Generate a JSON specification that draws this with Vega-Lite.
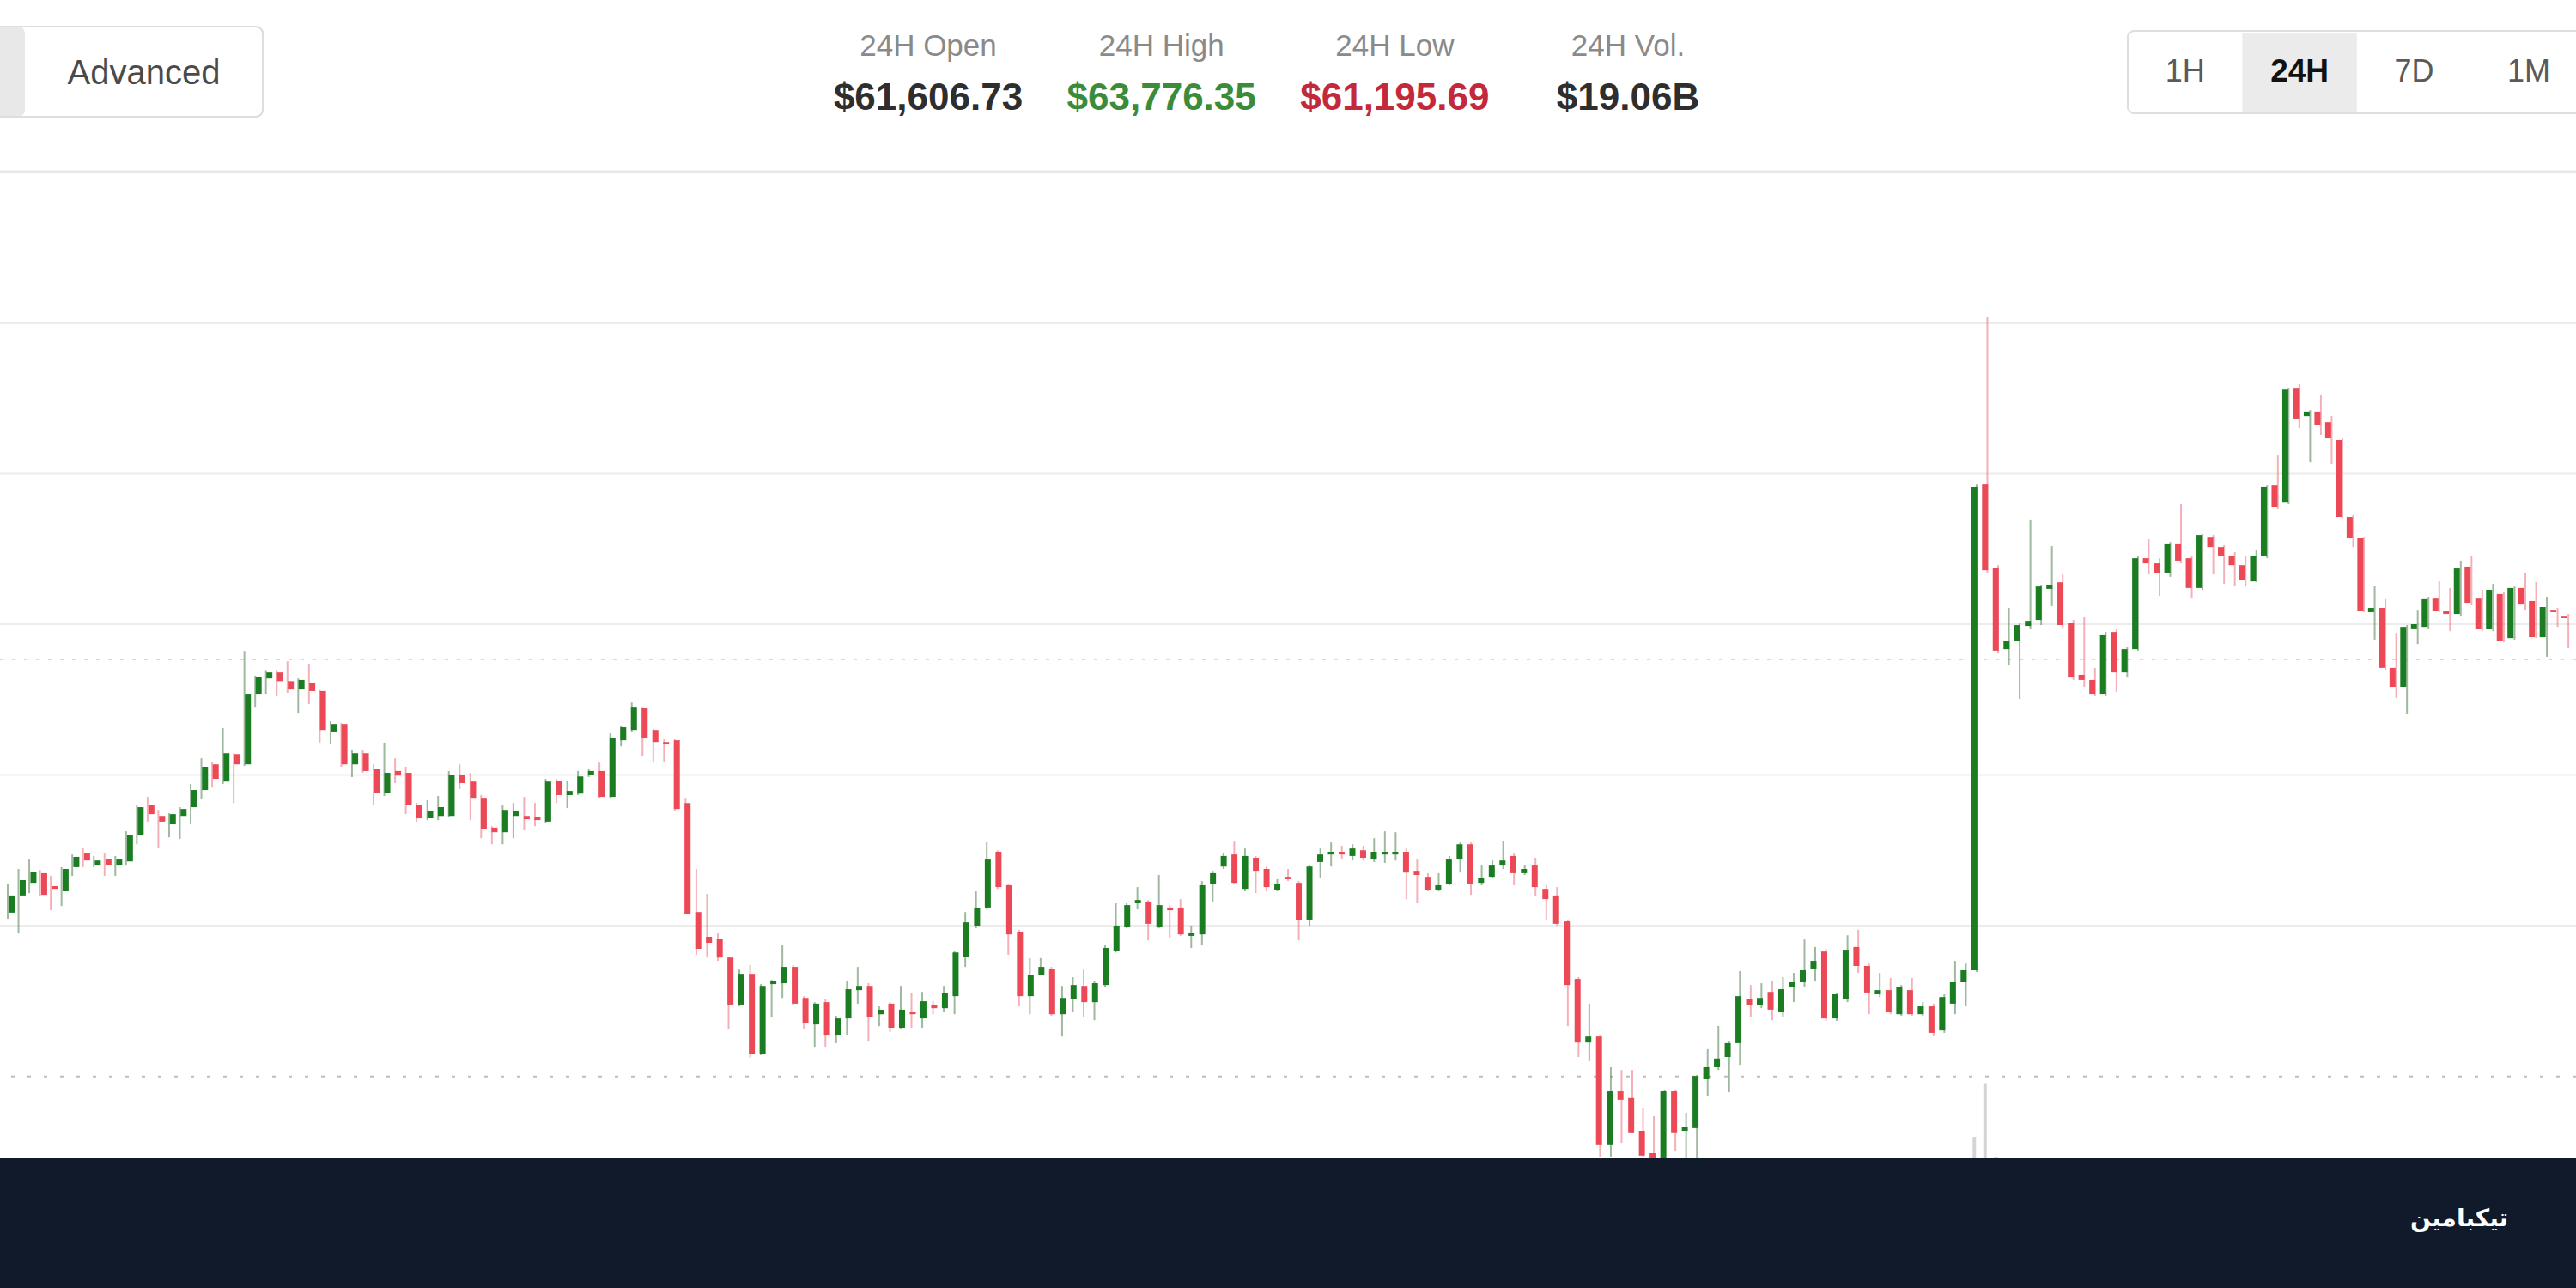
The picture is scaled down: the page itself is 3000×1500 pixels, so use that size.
{
"$schema": "https://vega.github.io/schema/vega-lite/v6.json",
"width": 3000, "height": 1500,
"autosize": {"type": "none"},
"padding": 0,
"background": "#ffffff",
"config": {"view": {"stroke": null}, "text": {"font": "Liberation Sans"}},
"datasets": {
"candles": [
{"t":0,"open":62043,"close":62100,"high":62137,"low":62023},
{"t":1,"open":62100,"close":62151,"high":62188,"low":61974},
{"t":2,"open":62142,"close":62179,"high":62222,"low":62108},
{"t":3,"open":62174,"close":62102,"high":62185,"low":62097},
{"t":4,"open":62131,"close":62122,"high":62165,"low":62051},
{"t":5,"open":62114,"close":62188,"high":62194,"low":62065},
{"t":6,"open":62194,"close":62228,"high":62236,"low":62165},
{"t":7,"open":62242,"close":62216,"high":62259,"low":62194},
{"t":8,"open":62202,"close":62216,"high":62231,"low":62194},
{"t":9,"open":62222,"close":62202,"high":62242,"low":62165},
{"t":10,"open":62202,"close":62222,"high":62231,"low":62165},
{"t":11,"open":62213,"close":62302,"high":62313,"low":62202},
{"t":12,"open":62299,"close":62393,"high":62401,"low":62270},
{"t":13,"open":62401,"close":62370,"high":62427,"low":62345},
{"t":14,"open":62364,"close":62345,"high":62384,"low":62256},
{"t":15,"open":62336,"close":62370,"high":62373,"low":62293},
{"t":16,"open":62364,"close":62387,"high":62393,"low":62288},
{"t":17,"open":62393,"close":62450,"high":62470,"low":62336},
{"t":18,"open":62450,"close":62527,"high":62555,"low":62421},
{"t":19,"open":62535,"close":62487,"high":62544,"low":62458},
{"t":20,"open":62478,"close":62572,"high":62655,"low":62470},
{"t":21,"open":62569,"close":62535,"high":62572,"low":62407},
{"t":22,"open":62535,"close":62769,"high":62911,"low":62530},
{"t":23,"open":62769,"close":62826,"high":62829,"low":62726},
{"t":24,"open":62820,"close":62840,"high":62848,"low":62769},
{"t":25,"open":62840,"close":62811,"high":62848,"low":62763},
{"t":26,"open":62811,"close":62786,"high":62877,"low":62772},
{"t":27,"open":62786,"close":62815,"high":62820,"low":62706},
{"t":28,"open":62806,"close":62778,"high":62869,"low":62735},
{"t":29,"open":62778,"close":62649,"high":62784,"low":62607},
{"t":30,"open":62644,"close":62669,"high":62678,"low":62601},
{"t":31,"open":62669,"close":62535,"high":62672,"low":62527},
{"t":32,"open":62535,"close":62572,"high":62584,"low":62493},
{"t":33,"open":62572,"close":62513,"high":62584,"low":62507},
{"t":34,"open":62521,"close":62441,"high":62535,"low":62399},
{"t":35,"open":62441,"close":62507,"high":62607,"low":62430},
{"t":36,"open":62513,"close":62498,"high":62555,"low":62473},
{"t":37,"open":62507,"close":62401,"high":62527,"low":62370},
{"t":38,"open":62401,"close":62356,"high":62407,"low":62345},
{"t":39,"open":62356,"close":62379,"high":62416,"low":62350},
{"t":40,"open":62364,"close":62393,"high":62430,"low":62350},
{"t":41,"open":62364,"close":62501,"high":62513,"low":62359},
{"t":42,"open":62501,"close":62473,"high":62535,"low":62453},
{"t":43,"open":62478,"close":62424,"high":62507,"low":62350},
{"t":44,"open":62424,"close":62319,"high":62433,"low":62290},
{"t":45,"open":62325,"close":62310,"high":62330,"low":62270},
{"t":46,"open":62310,"close":62384,"high":62399,"low":62270},
{"t":47,"open":62364,"close":62379,"high":62407,"low":62290},
{"t":48,"open":62364,"close":62353,"high":62427,"low":62316},
{"t":49,"open":62359,"close":62350,"high":62407,"low":62330},
{"t":50,"open":62345,"close":62478,"high":62487,"low":62339},
{"t":51,"open":62481,"close":62433,"high":62487,"low":62407},
{"t":52,"open":62433,"close":62447,"high":62481,"low":62390},
{"t":53,"open":62438,"close":62495,"high":62513,"low":62433},
{"t":54,"open":62501,"close":62513,"high":62521,"low":62493},
{"t":55,"open":62513,"close":62427,"high":62541,"low":62424},
{"t":56,"open":62427,"close":62624,"high":62638,"low":62424},
{"t":57,"open":62615,"close":62658,"high":62664,"low":62595},
{"t":58,"open":62649,"close":62726,"high":62740,"low":62644},
{"t":59,"open":62723,"close":62624,"high":62726,"low":62561},
{"t":60,"open":62649,"close":62609,"high":62652,"low":62541},
{"t":61,"open":62609,"close":62601,"high":62618,"low":62541},
{"t":62,"open":62615,"close":62387,"high":62618,"low":62379},
{"t":63,"open":62407,"close":62040,"high":62424,"low":62037},
{"t":64,"open":62045,"close":61923,"high":62188,"low":61903},
{"t":65,"open":61963,"close":61943,"high":62105,"low":61894},
{"t":66,"open":61957,"close":61894,"high":61977,"low":61883},
{"t":67,"open":61894,"close":61738,"high":61897,"low":61658},
{"t":68,"open":61738,"close":61840,"high":61854,"low":61732},
{"t":69,"open":61840,"close":61575,"high":61869,"low":61561},
{"t":70,"open":61575,"close":61800,"high":61806,"low":61570},
{"t":71,"open":61806,"close":61815,"high":61820,"low":61698},
{"t":72,"open":61809,"close":61863,"high":61937,"low":61760},
{"t":73,"open":61863,"close":61741,"high":61869,"low":61738},
{"t":74,"open":61760,"close":61678,"high":61766,"low":61658},
{"t":75,"open":61672,"close":61741,"high":61746,"low":61598},
{"t":76,"open":61746,"close":61638,"high":61755,"low":61598},
{"t":77,"open":61638,"close":61692,"high":61701,"low":61610},
{"t":78,"open":61692,"close":61789,"high":61815,"low":61638},
{"t":79,"open":61786,"close":61800,"high":61863,"low":61741},
{"t":80,"open":61800,"close":61698,"high":61809,"low":61618},
{"t":81,"open":61706,"close":61721,"high":61732,"low":61666},
{"t":82,"open":61741,"close":61661,"high":61746,"low":61647},
{"t":83,"open":61661,"close":61721,"high":61800,"low":61658},
{"t":84,"open":61715,"close":61706,"high":61775,"low":61661},
{"t":85,"open":61692,"close":61749,"high":61780,"low":61661},
{"t":86,"open":61735,"close":61726,"high":61749,"low":61706},
{"t":87,"open":61726,"close":61775,"high":61800,"low":61715},
{"t":88,"open":61766,"close":61911,"high":61917,"low":61706},
{"t":89,"open":61897,"close":62011,"high":62045,"low":61863},
{"t":90,"open":62000,"close":62060,"high":62114,"low":61991},
{"t":91,"open":62060,"close":62222,"high":62276,"low":62054},
{"t":92,"open":62245,"close":62128,"high":62250,"low":62122},
{"t":93,"open":62134,"close":61971,"high":62137,"low":61903},
{"t":94,"open":61980,"close":61766,"high":61986,"low":61732},
{"t":95,"open":61766,"close":61835,"high":61892,"low":61706},
{"t":96,"open":61837,"close":61863,"high":61892,"low":61835},
{"t":97,"open":61857,"close":61706,"high":61863,"low":61701},
{"t":98,"open":61706,"close":61760,"high":61800,"low":61632},
{"t":99,"open":61755,"close":61803,"high":61829,"low":61715},
{"t":100,"open":61800,"close":61746,"high":61854,"low":61698},
{"t":101,"open":61746,"close":61809,"high":61815,"low":61686},
{"t":102,"open":61803,"close":61926,"high":61937,"low":61795},
{"t":103,"open":61917,"close":62000,"high":62074,"low":61911},
{"t":104,"open":61997,"close":62068,"high":62074,"low":61991},
{"t":105,"open":62074,"close":62085,"high":62128,"low":62054},
{"t":106,"open":62080,"close":62006,"high":62085,"low":61951},
{"t":107,"open":61997,"close":62068,"high":62168,"low":61991},
{"t":108,"open":62060,"close":62051,"high":62068,"low":61960},
{"t":109,"open":62060,"close":61971,"high":62088,"low":61966},
{"t":110,"open":61966,"close":61977,"high":62000,"low":61926},
{"t":111,"open":61971,"close":62134,"high":62148,"low":61937},
{"t":112,"open":62137,"close":62174,"high":62182,"low":62080},
{"t":113,"open":62196,"close":62231,"high":62242,"low":62188},
{"t":114,"open":62236,"close":62142,"high":62279,"low":62137},
{"t":115,"open":62122,"close":62231,"high":62256,"low":62114},
{"t":116,"open":62225,"close":62182,"high":62231,"low":62108},
{"t":117,"open":62188,"close":62128,"high":62196,"low":62114},
{"t":118,"open":62119,"close":62137,"high":62154,"low":62114},
{"t":119,"open":62162,"close":62154,"high":62188,"low":62148},
{"t":120,"open":62142,"close":62020,"high":62148,"low":61951},
{"t":121,"open":62020,"close":62196,"high":62202,"low":62000},
{"t":122,"open":62211,"close":62236,"high":62256,"low":62157},
{"t":123,"open":62236,"close":62245,"high":62276,"low":62196},
{"t":124,"open":62245,"close":62236,"high":62265,"low":62222},
{"t":125,"open":62231,"close":62256,"high":62270,"low":62216},
{"t":126,"open":62250,"close":62225,"high":62265,"low":62216},
{"t":127,"open":62222,"close":62245,"high":62290,"low":62211},
{"t":128,"open":62236,"close":62245,"high":62313,"low":62208},
{"t":129,"open":62236,"close":62245,"high":62310,"low":62216},
{"t":130,"open":62245,"close":62176,"high":62256,"low":62088},
{"t":131,"open":62182,"close":62168,"high":62222,"low":62074},
{"t":132,"open":62162,"close":62119,"high":62174,"low":62114},
{"t":133,"open":62119,"close":62134,"high":62174,"low":62114},
{"t":134,"open":62137,"close":62222,"high":62231,"low":62134},
{"t":135,"open":62222,"close":62270,"high":62276,"low":62176},
{"t":136,"open":62270,"close":62137,"high":62276,"low":62102},
{"t":137,"open":62142,"close":62157,"high":62202,"low":62134},
{"t":138,"open":62162,"close":62202,"high":62216,"low":62157},
{"t":139,"open":62202,"close":62216,"high":62279,"low":62188},
{"t":140,"open":62231,"close":62174,"high":62242,"low":62134},
{"t":141,"open":62174,"close":62188,"high":62202,"low":62168},
{"t":142,"open":62202,"close":62128,"high":62225,"low":62100},
{"t":143,"open":62122,"close":62088,"high":62134,"low":62020},
{"t":144,"open":62100,"close":62006,"high":62128,"low":62000},
{"t":145,"open":62014,"close":61803,"high":62020,"low":61666},
{"t":146,"open":61823,"close":61612,"high":61829,"low":61564},
{"t":147,"open":61612,"close":61632,"high":61741,"low":61550},
{"t":148,"open":61632,"close":61274,"high":61638,"low":61231},
{"t":149,"open":61274,"close":61450,"high":61530,"low":61231},
{"t":150,"open":61450,"close":61422,"high":61521,"low":61279},
{"t":151,"open":61428,"close":61314,"high":61521,"low":61311},
{"t":152,"open":61319,"close":61237,"high":61396,"low":61231},
{"t":153,"open":61245,"close":61191,"high":61368,"low":61180},
{"t":154,"open":61183,"close":61450,"high":61456,"low":61170},
{"t":155,"open":61450,"close":61314,"high":61456,"low":61251},
{"t":156,"open":61319,"close":61333,"high":61379,"low":61203},
{"t":157,"open":61328,"close":61501,"high":61504,"low":61183},
{"t":158,"open":61490,"close":61530,"high":61590,"low":61436},
{"t":159,"open":61530,"close":61559,"high":61667,"low":61521},
{"t":160,"open":61564,"close":61610,"high":61618,"low":61447},
{"t":161,"open":61610,"close":61766,"high":61849,"low":61538},
{"t":162,"open":61755,"close":61735,"high":61803,"low":61698},
{"t":163,"open":61735,"close":61760,"high":61809,"low":61726},
{"t":164,"open":61780,"close":61721,"high":61815,"low":61686},
{"t":165,"open":61715,"close":61789,"high":61829,"low":61698},
{"t":166,"open":61795,"close":61812,"high":61843,"low":61746},
{"t":167,"open":61812,"close":61852,"high":61954,"low":61795},
{"t":168,"open":61857,"close":61883,"high":61929,"low":61817},
{"t":169,"open":61914,"close":61692,"high":61923,"low":61684},
{"t":170,"open":61692,"close":61772,"high":61778,"low":61684},
{"t":171,"open":61755,"close":61920,"high":61968,"low":61746},
{"t":172,"open":61929,"close":61866,"high":61986,"low":61843},
{"t":173,"open":61866,"close":61778,"high":61874,"low":61706},
{"t":174,"open":61772,"close":61786,"high":61843,"low":61763},
{"t":175,"open":61786,"close":61715,"high":61826,"low":61706},
{"t":176,"open":61706,"close":61795,"high":61803,"low":61701},
{"t":177,"open":61786,"close":61706,"high":61826,"low":61701},
{"t":178,"open":61706,"close":61732,"high":61746,"low":61701},
{"t":179,"open":61732,"close":61644,"high":61741,"low":61635},
{"t":180,"open":61652,"close":61763,"high":61772,"low":61644},
{"t":181,"open":61741,"close":61812,"high":61883,"low":61706},
{"t":182,"open":61812,"close":61852,"high":61874,"low":61732},
{"t":183,"open":61852,"close":63456,"high":63464,"low":61846},
{"t":184,"open":63464,"close":63179,"high":64020,"low":63171},
{"t":185,"open":63188,"close":62912,"high":63196,"low":62903},
{"t":186,"open":62917,"close":62943,"high":63054,"low":62863},
{"t":187,"open":62943,"close":62997,"high":63005,"low":62752},
{"t":188,"open":62994,"close":63011,"high":63345,"low":62983},
{"t":189,"open":63014,"close":63125,"high":63131,"low":62997},
{"t":190,"open":63117,"close":63131,"high":63259,"low":63060},
{"t":191,"open":63139,"close":62997,"high":63165,"low":62988},
{"t":192,"open":63005,"close":62823,"high":63014,"low":62815},
{"t":193,"open":62832,"close":62815,"high":63023,"low":62792},
{"t":194,"open":62815,"close":62769,"high":62855,"low":62761},
{"t":195,"open":62769,"close":62966,"high":62974,"low":62761},
{"t":196,"open":62974,"close":62840,"high":62983,"low":62775},
{"t":197,"open":62840,"close":62917,"high":62926,"low":62823},
{"t":198,"open":62917,"close":63219,"high":63228,"low":62912},
{"t":199,"open":63219,"close":63202,"high":63282,"low":63165},
{"t":200,"open":63202,"close":63171,"high":63219,"low":63094},
{"t":201,"open":63171,"close":63268,"high":63273,"low":63157},
{"t":202,"open":63268,"close":63211,"high":63399,"low":63202},
{"t":203,"open":63219,"close":63120,"high":63225,"low":63085},
{"t":204,"open":63120,"close":63296,"high":63299,"low":63114},
{"t":205,"open":63290,"close":63256,"high":63296,"low":63168},
{"t":206,"open":63256,"close":63228,"high":63262,"low":63134},
{"t":207,"open":63225,"close":63196,"high":63239,"low":63125},
{"t":208,"open":63196,"close":63148,"high":63225,"low":63125},
{"t":209,"open":63142,"close":63228,"high":63248,"low":63140},
{"t":210,"open":63225,"close":63456,"high":63461,"low":63219},
{"t":211,"open":63461,"close":63390,"high":63561,"low":63382},
{"t":212,"open":63404,"close":63780,"high":63783,"low":63399},
{"t":213,"open":63783,"close":63681,"high":63798,"low":63652},
{"t":214,"open":63689,"close":63704,"high":63709,"low":63538},
{"t":215,"open":63704,"close":63661,"high":63761,"low":63627},
{"t":216,"open":63669,"close":63618,"high":63689,"low":63533},
{"t":217,"open":63612,"close":63356,"high":63618,"low":63353},
{"t":218,"open":63356,"close":63285,"high":63362,"low":63256},
{"t":219,"open":63285,"close":63043,"high":63290,"low":63040},
{"t":220,"open":63040,"close":63054,"high":63128,"low":62949},
{"t":221,"open":63054,"close":62855,"high":63083,"low":62849},
{"t":222,"open":62855,"close":62792,"high":62971,"low":62755},
{"t":223,"open":62792,"close":62991,"high":62997,"low":62701},
{"t":224,"open":62986,"close":63000,"high":63048,"low":62934},
{"t":225,"open":62991,"close":63083,"high":63091,"low":62986},
{"t":226,"open":63085,"close":63043,"high":63142,"low":63040},
{"t":227,"open":63043,"close":63034,"high":63120,"low":62977},
{"t":228,"open":63034,"close":63185,"high":63211,"low":63028},
{"t":229,"open":63191,"close":63071,"high":63228,"low":63063},
{"t":230,"open":63085,"close":62983,"high":63114,"low":62977},
{"t":231,"open":62983,"close":63114,"high":63134,"low":62977},
{"t":232,"open":63100,"close":62943,"high":63105,"low":62940},
{"t":233,"open":62954,"close":63120,"high":63125,"low":62949},
{"t":234,"open":63120,"close":63068,"high":63171,"low":63048},
{"t":235,"open":63077,"close":62957,"high":63140,"low":62954},
{"t":236,"open":62957,"close":63057,"high":63091,"low":62892},
{"t":237,"open":63048,"close":63040,"high":63054,"low":62991},
{"t":238,"open":63028,"close":63020,"high":63034,"low":62920}
],
"volume": [
{"t":182,"vol":14},{"t":183,"vol":40},{"t":184,"vol":66},{"t":185,"vol":30},{"t":186,"vol":12}
],
"grid": [{"price":64000},{"price":63500},{"price":63000},{"price":62500},{"price":62000}],
"levels": [{"price":62883,"name":"ref"},{"price":61499,"name":"base"}],
"stats": [
{"stat":"24H Open","value":"$61,606.73","tone":"neutral"},
{"stat":"24H High","value":"$63,776.35","tone":"up"},
{"stat":"24H Low","value":"$61,195.69","tone":"down"},
{"stat":"24H Vol.","value":"$19.06B","tone":"neutral"}
],
"modes": [{"mode":"Simple","label":"","on":"yes"},{"mode":"Advanced","label":"Advanced","on":"no"}],
"ranges": [{"r":"1H","on":"no"},{"r":"24H","on":"yes"},{"r":"7D","on":"no"},{"r":"1M","on":"no"}],
"brand": [{"zone":"footer","name":"تیکبامین"}]
},
"resolve": {"scale": {"x": "independent", "y": "independent", "color": "independent"}},
"layer": [
{"data":{"name":"grid"},"mark":{"type":"rule","stroke":"#ececec","strokeWidth":2},
 "encoding":{"y":{"field":"price","type":"quantitative","scale":{"domain":[60797.7,65071.2],"nice":false,"zero":false},"axis":null}}},
{"data":{"name":"levels"},"transform":[{"filter":"datum.name == 'ref'"}],"mark":{"type":"rule","stroke":"#d9d9d9","strokeWidth":2,"strokeDash":[4,10]},
 "encoding":{"y":{"field":"price","type":"quantitative","scale":{"domain":[60797.7,65071.2],"nice":false,"zero":false},"axis":null}}},
{"data":{"name":"levels"},"transform":[{"filter":"datum.name == 'base'"}],"mark":{"type":"rule","stroke":"#bdbdbd","strokeWidth":2,"strokeDash":[4,15]},
 "encoding":{"y":{"field":"price","type":"quantitative","scale":{"domain":[60797.7,65071.2],"nice":false,"zero":false},"axis":null}}},
{"data":{"name":"volume"},"mark":{"type":"bar","width":4,"color":"#d4d4d4"},
 "encoding":{"x":{"field":"t","type":"quantitative","scale":{"domain":[-0.718,238.71],"nice":false,"zero":false},"axis":null},
  "y":{"field":"vol","type":"quantitative","scale":{"domain":[0,100],"range":[1420,1180],"nice":false},"axis":null},
  "y2":{"datum":0}}},
{"data":{"name":"candles"},"mark":{"type":"rule","strokeWidth":2,"opacity":0.6},
 "encoding":{"x":{"field":"t","type":"quantitative","scale":{"domain":[-0.718,238.71],"nice":false,"zero":false},"axis":null},
  "y":{"field":"low","type":"quantitative","scale":{"domain":[60797.7,65071.2],"nice":false,"zero":false},"axis":null},
  "y2":{"field":"high"},
  "color":{"condition":{"test":"datum.close >= datum.open","value":"#5e8a5e"},"value":"#ee7c87"}}},
{"data":{"name":"candles"},"mark":{"type":"bar","width":7},
 "encoding":{"x":{"field":"t","type":"quantitative","scale":{"domain":[-0.718,238.71],"nice":false,"zero":false},"axis":null},
  "y":{"field":"open","type":"quantitative","scale":{"domain":[60797.7,65071.2],"nice":false,"zero":false},"axis":null},
  "y2":{"field":"close"},
  "color":{"condition":{"test":"datum.close >= datum.open","value":"#1b7d22"},"value":"#ec4856"}}},
{"data":{"name":"brand"},"mark":{"type":"rect","color":"#111a2b"},
 "encoding":{"y":{"field":"zone","type":"nominal","scale":{"type":"band","domain":["footer"],"range":[1349,1500],"paddingInner":0,"paddingOuter":0},"axis":null}}},
{"data":{"name":"brand"},"mark":{"type":"text","color":"#ffffff","font":"DejaVu Sans","fontWeight":"bold","fontSize":28,"baseline":"middle","align":"center"},
 "encoding":{"x":{"field":"zone","type":"nominal","scale":{"type":"point","domain":["footer"],"range":[2864,2864]},"axis":null},
  "y":{"field":"zone","type":"nominal","scale":{"type":"point","domain":["footer"],"range":[1420,1420]},"axis":null},
  "text":{"field":"name"}}},
{"data":{"name":"brand"},"mark":{"type":"rule","stroke":"#e8e8e8","strokeWidth":3},
 "encoding":{"y":{"datum":"sep","type":"nominal","scale":{"type":"point","domain":["sep"],"range":[200,200]},"axis":null}}},
{"data":{"name":"stats"},"mark":{"type":"text","fontSize":35,"color":"#8a8a8a","baseline":"middle","align":"center"},
 "encoding":{"x":{"field":"stat","type":"nominal","scale":{"type":"point","domain":["24H Open","24H High","24H Low","24H Vol."],"range":[1081,1896],"padding":0},"axis":null},
  "y":{"datum":"label","type":"nominal","scale":{"type":"point","domain":["label","value"],"range":[54,115],"padding":0},"axis":null},
  "text":{"field":"stat"}}},
{"data":{"name":"stats"},"mark":{"type":"text","fontSize":44,"fontWeight":"bold","baseline":"middle","align":"center"},
 "encoding":{"x":{"field":"stat","type":"nominal","scale":{"type":"point","domain":["24H Open","24H High","24H Low","24H Vol."],"range":[1081,1896],"padding":0},"axis":null},
  "y":{"datum":"value","type":"nominal","scale":{"type":"point","domain":["label","value"],"range":[54,115],"padding":0},"axis":null},
  "color":{"field":"tone","type":"nominal","scale":{"domain":["neutral","up","down"],"range":["#2e2e2e","#3a8c3a","#c2293b"]},"legend":null},
  "text":{"field":"value"}}},
{"data":{"name":"modes"},"mark":{"type":"rect","cornerRadius":8},
 "encoding":{"x":{"field":"mode","type":"nominal","scale":{"type":"band","domain":["Simple","Advanced"],"range":[-248,306],"paddingInner":0,"paddingOuter":0},"axis":null},
  "y":{"datum":"row","type":"nominal","scale":{"type":"band","domain":["row"],"range":[31,136],"paddingInner":0,"paddingOuter":0},"axis":null},
  "color":{"field":"on","type":"nominal","scale":{"domain":["yes","no"],"range":["#e8e8e8","#ffffff"]},"legend":null}}},
{"data":{"name":"modes"},"mark":{"type":"rect","cornerRadius":8,"fill":"#ffffff","fillOpacity":0,"stroke":"#dedede","strokeWidth":2},
 "encoding":{"x":{"datum":"frame","type":"nominal","scale":{"type":"band","domain":["frame"],"range":[-20,306],"paddingInner":0,"paddingOuter":0},"axis":null},
  "y":{"datum":"row","type":"nominal","scale":{"type":"band","domain":["row"],"range":[31,136],"paddingInner":0,"paddingOuter":0},"axis":null}}},
{"data":{"name":"modes"},"mark":{"type":"text","fontSize":40,"color":"#4a4a4a","baseline":"middle","align":"center"},
 "encoding":{"x":{"field":"mode","type":"nominal","scale":{"type":"band","domain":["Simple","Advanced"],"range":[-248,306],"paddingInner":0,"paddingOuter":0},"axis":null},
  "y":{"datum":"row","type":"nominal","scale":{"type":"band","domain":["row"],"range":[36,136],"paddingInner":0,"paddingOuter":0},"axis":null},
  "text":{"field":"label"}}},
{"data":{"name":"ranges"},"mark":{"type":"rect","cornerRadius":8,"fill":"#ffffff","stroke":"#dedede","strokeWidth":2},
 "encoding":{"x":{"datum":"frame","type":"nominal","scale":{"type":"band","domain":["frame"],"range":[2478,3060],"paddingInner":0,"paddingOuter":0},"axis":null},
  "y":{"datum":"row","type":"nominal","scale":{"type":"band","domain":["row"],"range":[36,132],"paddingInner":0,"paddingOuter":0},"axis":null}}},
{"data":{"name":"ranges"},"transform":[{"filter":"datum.on == 'yes'"}],"mark":{"type":"rect","fill":"#ebebeb"},
 "encoding":{"x":{"field":"r","type":"nominal","scale":{"type":"band","domain":["1H","24H","7D","1M","1Y"],"range":[2478,3145],"paddingInner":0,"paddingOuter":0},"axis":null},
  "y":{"datum":"row","type":"nominal","scale":{"type":"band","domain":["row"],"range":[38,130],"paddingInner":0,"paddingOuter":0},"axis":null}}},
{"data":{"name":"ranges"},"transform":[{"filter":"datum.on == 'no'"}],"mark":{"type":"text","fontSize":36,"color":"#5a5a5a","baseline":"middle","align":"center"},
 "encoding":{"x":{"field":"r","type":"nominal","scale":{"type":"band","domain":["1H","24H","7D","1M","1Y"],"range":[2478,3145],"paddingInner":0,"paddingOuter":0},"axis":null},
  "y":{"datum":"row","type":"nominal","scale":{"type":"band","domain":["row"],"range":[36,132],"paddingInner":0,"paddingOuter":0},"axis":null},
  "text":{"field":"r"}}},
{"data":{"name":"ranges"},"transform":[{"filter":"datum.on == 'yes'"}],"mark":{"type":"text","fontSize":37,"fontWeight":"bold","color":"#111111","baseline":"middle","align":"center"},
 "encoding":{"x":{"field":"r","type":"nominal","scale":{"type":"band","domain":["1H","24H","7D","1M","1Y"],"range":[2478,3145],"paddingInner":0,"paddingOuter":0},"axis":null},
  "y":{"datum":"row","type":"nominal","scale":{"type":"band","domain":["row"],"range":[36,132],"paddingInner":0,"paddingOuter":0},"axis":null},
  "text":{"field":"r"}}}
]
}
